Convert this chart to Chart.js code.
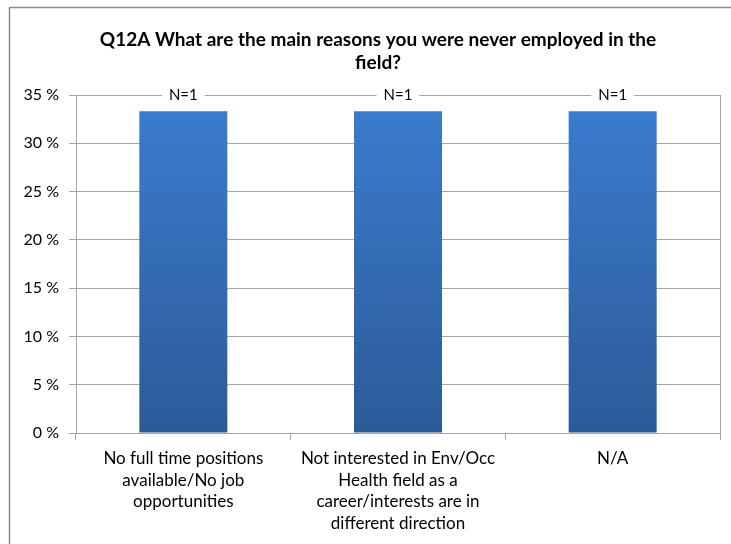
<!DOCTYPE html>
<html>
<head>
<meta charset="utf-8">
<script src="https://cdn.jsdelivr.net/npm/chart.js@4.4.1/dist/chart.umd.min.js"></script>
<style>
  html, body { margin: 0; padding: 0; background: #fff; }
  #wrap { width: 731px; height: 544px; position: relative; }
</style>
</head>
<body>
<div id="wrap"><canvas id="c" width="731" height="544"></canvas></div>
<script>
const titleLines = ["Q12A What are the main reasons you were never employed in the", "field?"];
const categories = [
  ["No full time positions", "available/No job", "opportunities"],
  ["Not interested in Env/Occ", "Health field as a", "career/interests are in", "different direction"],
  ["N/A"]
];
const percentValues = [33.33, 33.33, 33.33];
const countLabels = ["N=1", "N=1", "N=1"];
const yTicks = [0, 5, 10, 15, 20, 25, 30, 35];

const FONT = "Lato, 'Open Sans', sans-serif";

const frame = {
  id: 'frame',
  beforeDraw(chart) {
    const ctx = chart.ctx;
    ctx.save();
    ctx.fillStyle = '#ffffff';
    ctx.fillRect(0, 0, chart.width, chart.height);
    ctx.strokeStyle = '#8c8c8c';
    ctx.lineWidth = 1.5;
    ctx.strokeRect(9.5, 7.5, chart.width + 10, chart.height + 10);
    ctx.restore();
  },
  afterDraw(chart) {
    const ctx = chart.ctx;
    const a = chart.chartArea;
    ctx.save();
    // title
    ctx.fillStyle = '#000000';
    ctx.font = "bold 19px " + FONT;
    ctx.textAlign = 'center';
    ctx.textBaseline = 'middle';
    titleLines.forEach((t, i) => ctx.fillText(t, 378, 40 + i * 23));
    // plot right border
    ctx.strokeStyle = '#a6a6a6';
    ctx.lineWidth = 1;
    ctx.beginPath();
    ctx.moveTo(Math.round(a.right) + 0.5, a.top);
    ctx.lineTo(Math.round(a.right) + 0.5, a.bottom + 7);
    ctx.stroke();
    // N labels
    const y = chart.scales.y.getPixelForValue(35);
    const meta = chart.getDatasetMeta(0);
    ctx.font = "15px " + FONT;
    meta.data.forEach((bar, i) => {
      const t = countLabels[i];
      const w = ctx.measureText(t).width;
      ctx.fillStyle = '#ffffff';
      ctx.fillRect(bar.x - w / 2 - 7, y - 8, w + 14, 16);
      ctx.fillStyle = '#000000';
      ctx.fillText(t, bar.x, y);
    });
    ctx.restore();
  }
};

new Chart(document.getElementById('c'), {
  type: 'bar',
  data: {
    labels: categories,
    datasets: [{
      data: percentValues,
      backgroundColor(context) {
        const chart = context.chart;
        const a = chart.chartArea;
        if (!a) return '#3570b8';
        const g = chart.ctx.createLinearGradient(0, a.top, 0, a.bottom);
        g.addColorStop(0, '#3b7dd0');
        g.addColorStop(1, '#2c5b98');
        return g;
      },
      borderWidth: 0,
      barPercentage: 0.41,
      categoryPercentage: 1.0
    }]
  },
  options: {
    responsive: false,
    animation: false,
    devicePixelRatio: 1,
    layout: { padding: { top: 95, left: 12, right: 11, bottom: 0 } },
    plugins: {
      legend: { display: false },
      tooltip: { enabled: false },
      title: { display: false }
    },
    scales: {
      x: {
        offset: true,
        afterFit(scale) { scale.height = 111; },
        grid: {
          display: true,
          offset: true,
          drawOnChartArea: false,
          drawTicks: true,
          tickLength: 7,
          color: '#a6a6a6'
        },
        border: { display: true, color: '#a6a6a6' },
        ticks: {
          color: '#000000',
          font: { family: FONT, size: 17, lineHeight: 1.27 },
          padding: 8,
          maxRotation: 0,
          autoSkip: false
        }
      },
      y: {
        min: 0,
        max: 35,
        afterFit(scale) { scale.width = 64; },
        afterBuildTicks(scale) { scale.ticks = yTicks.map(v => ({ value: v })); },
        grid: {
          color: '#a6a6a6',
          drawTicks: true,
          tickLength: 7
        },
        border: { display: true, color: '#a6a6a6' },
        ticks: {
          color: '#000000',
          font: { family: FONT, size: 16 },
          padding: 10,
          callback: v => v + ' %'
        }
      }
    }
  },
  plugins: [frame]
});
</script>
</body>
</html>
